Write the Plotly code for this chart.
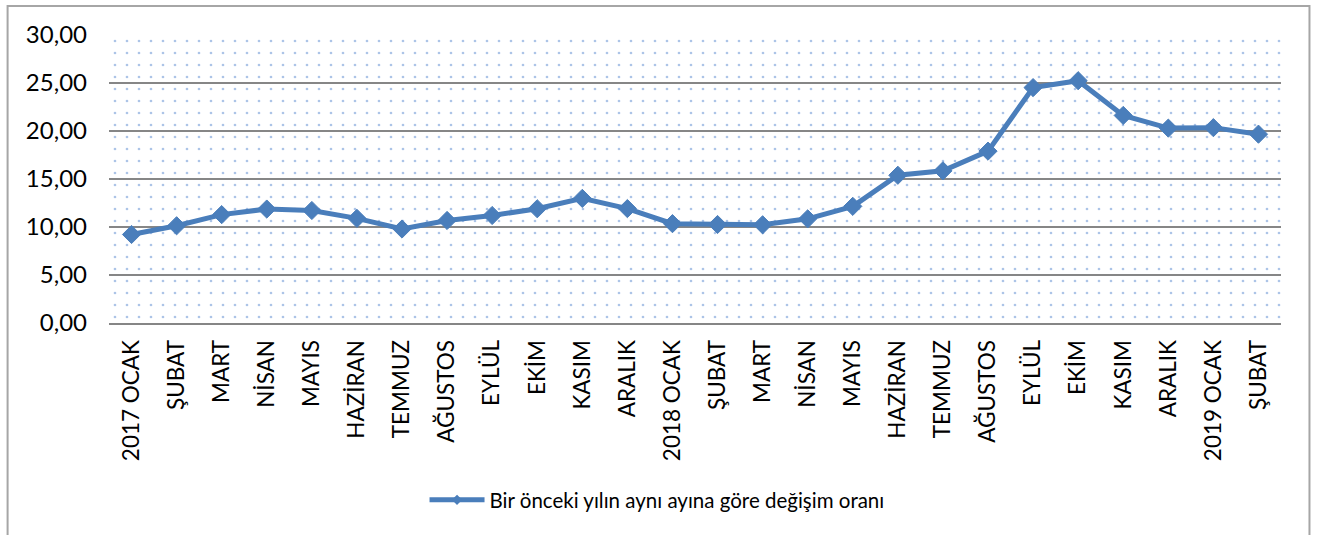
import plotly.graph_objects as go

months = ["2017 OCAK", "ŞUBAT", "MART", "NİSAN", "MAYIS", "HAZİRAN", "TEMMUZ",
          "AĞUSTOS", "EYLÜL", "EKİM", "KASIM", "ARALIK", "2018 OCAK", "ŞUBAT",
          "MART", "NİSAN", "MAYIS", "HAZİRAN", "TEMMUZ", "AĞUSTOS", "EYLÜL",
          "EKİM", "KASIM", "ARALIK", "2019 OCAK", "ŞUBAT"]
values = [9.22, 10.13, 11.29, 11.87, 11.72, 10.90, 9.79, 10.68, 11.20, 11.90,
          12.98, 11.92, 10.35, 10.26, 10.23, 10.85, 12.15, 15.39, 15.85, 17.90,
          24.52, 25.24, 21.62, 20.30, 20.35, 19.67]
series_name = "Bir önceki yılın aynı ayına göre değişim oranı"
y_min, y_max, y_step = 0, 30, 5

W, H = 1317, 535
L, R, T, B = 108.5, 35.5, 35, 212
pw, ph = W - L - R, H - T - B

def px_x(p):
    return (p - L) / pw

def px_y(p):
    return (H - B - p) / ph

idx = list(range(len(months)))
x_lo, x_hi = -0.5, len(months) - 0.5
blue = "#4a7ebb"

fig = go.Figure()

# dotted background of the plot area
fig.add_trace(go.Scatter(
    x=[x_lo, x_hi, x_hi, x_lo, x_lo],
    y=[y_min, y_min, y_max, y_max, y_min],
    mode="none", fill="toself", fillcolor="rgba(0,0,0,0)",
    fillpattern=dict(shape=".", fgcolor="#5a8ad0", bgcolor="rgba(0,0,0,0)",
                     size=12, solidity=0.04),
    hoverinfo="skip", showlegend=False,
))

fig.add_trace(go.Scatter(
    x=idx, y=values, mode="lines+markers", name=series_name,
    line=dict(color=blue, width=5),
    marker=dict(symbol="diamond", size=14, color=blue,
                line=dict(color=blue, width=1)),
    showlegend=False,
))

# legend entry (smaller marker, as in the reference)
fig.add_trace(go.Scatter(
    x=[None], y=[None], mode="lines+markers", name=series_name,
    line=dict(color=blue, width=5),
    marker=dict(symbol="diamond", size=8, color=blue),
))

fig.update_layout(
    width=W, height=H,
    margin=dict(l=L, r=R, t=T, b=B, autoexpand=False),
    paper_bgcolor="white", plot_bgcolor="white",
    separators=",.",
    font=dict(family="Lato, Carlito, Calibri, sans-serif", color="black"),
    showlegend=True,
    legend=dict(orientation="h", x=px_x(657), y=px_y(500),
                xanchor="center", yanchor="middle",
                font=dict(size=20.5), itemwidth=55,
                bgcolor="rgba(0,0,0,0)"),
    xaxis=dict(range=[x_lo, x_hi], tickmode="array", tickvals=idx,
               ticktext=months, tickangle=-90, showgrid=False,
               zeroline=False, showline=True, linecolor="#868686",
               linewidth=2, ticks="", tickfont=dict(size=22.5),
               ticklabelstandoff=6),
    yaxis=dict(range=[y_min, y_max], dtick=y_step, tick0=0,
               tickformat=".2f", showgrid=True, gridcolor="#868686",
               gridwidth=2, zeroline=True, zerolinecolor="#868686",
               zerolinewidth=2, showline=False, ticks="",
               tickfont=dict(size=24), ticklabelstandoff=21),
    shapes=[dict(type="rect", xref="paper", yref="paper",
                 x0=px_x(7), x1=px_x(1310), y0=px_y(560), y1=px_y(6),
                 line=dict(color="#a6a6a6", width=2),
                 fillcolor="rgba(0,0,0,0)", layer="below")],
)

fig.write_html("out.html", config={"displayModeBar": False},
               post_script="document.body.style.margin='0';")
